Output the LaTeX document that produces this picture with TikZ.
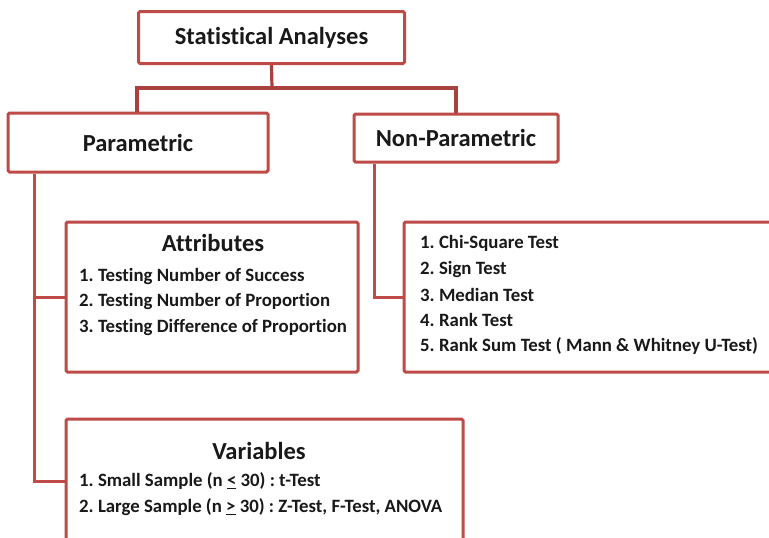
\documentclass[tikz,border=0pt]{standalone}
\usepackage{fontspec}
\setmainfont{Carlito}[Ligatures=NoCommon]
\frenchspacing
\definecolor{boxred}{HTML}{BE4B48}
\definecolor{linered}{HTML}{A8413F}
\begin{document}
\begin{tikzpicture}[x=1pt,y=-1pt,
  box/.style={draw=boxred,line width=3pt,rounded corners=1.5pt,fill=white,inner sep=0pt},
  conn/.style={draw=linered,line width=3.2pt},
  pconn/.style={draw=boxred,line width=3pt},
  head/.style={font=\bfseries\fontsize{24.5}{28}\selectfont,text=black!90,inner sep=0pt},
  item/.style={font=\bfseries\fontsize{18.8}{22}\selectfont,text=black!90,inner sep=0pt,anchor=west}]
\useasboundingbox (0,0) rectangle (769,538);
% boxes
\node[box,minimum width=266pt,minimum height=52pt] (top) at (271.5,37.5) {};
\node[box,minimum width=260pt,minimum height=59pt] (par) at (138,142.5) {};
\node[box,minimum width=204pt,minimum height=48pt] (non) at (456,138) {};
\node[box,minimum width=292pt,minimum height=150pt] (att) at (212,297) {};
\node[box,minimum width=380pt,minimum height=150pt] (npl) at (594,297) {};
\node[box,minimum width=397pt,minimum height=130pt] (var) at (264.5,484) {};
% texts
\node[head] (tTop) at (top.center) {Statistical Analyses};
\node[head] (tPar) at (par.center) {Parametric};
\node[head] (tNon) at (non.center) {Non-Parametric};
\node[head] (tAtt) at (213,243) {Attributes};
\node[head] (tVar) at (259,451) {Variables};
\node[item] (a1) at (79,276) {1. Testing Number of Success};
\node[item] (a2) at (79,301) {2. Testing Number of Proportion};
\node[item] (a3) at (79,327) {3. Testing Difference of Proportion};
\node[item] (n1) at (420,243) {1. Chi-Square Test};
\node[item] (n2) at (420,269) {2. Sign Test};
\node[item] (n3) at (420,295) {3. Median Test};
\node[item] (n4) at (420,320) {4. Rank Test};
\node[item] (n5) at (420,346) {5. Rank Sum Test ( Mann \& Whitney U-Test)};
\node[item] (v1) at (79,481) {1. Small Sample (n \underline{<} 30) : t-Test};
\node[item] (v2) at (79,507) {2. Large Sample (n \underline{>} 30) : Z-Test, F-Test, ANOVA};
% connectors
\coordinate (j1) at (272,88);
\draw[conn] (top.south) -- (j1);
\draw[conn] (par.north -| 137,0) |- (j1) -| (non.north);
\draw[pconn] (par.south -| 34,0) |- (att.west);
\draw[pconn] (34,297) |- (var.west |- 481,481);
\draw[pconn] (non.south -| 374,0) |- (npl.west);
\end{tikzpicture}
\end{document}
